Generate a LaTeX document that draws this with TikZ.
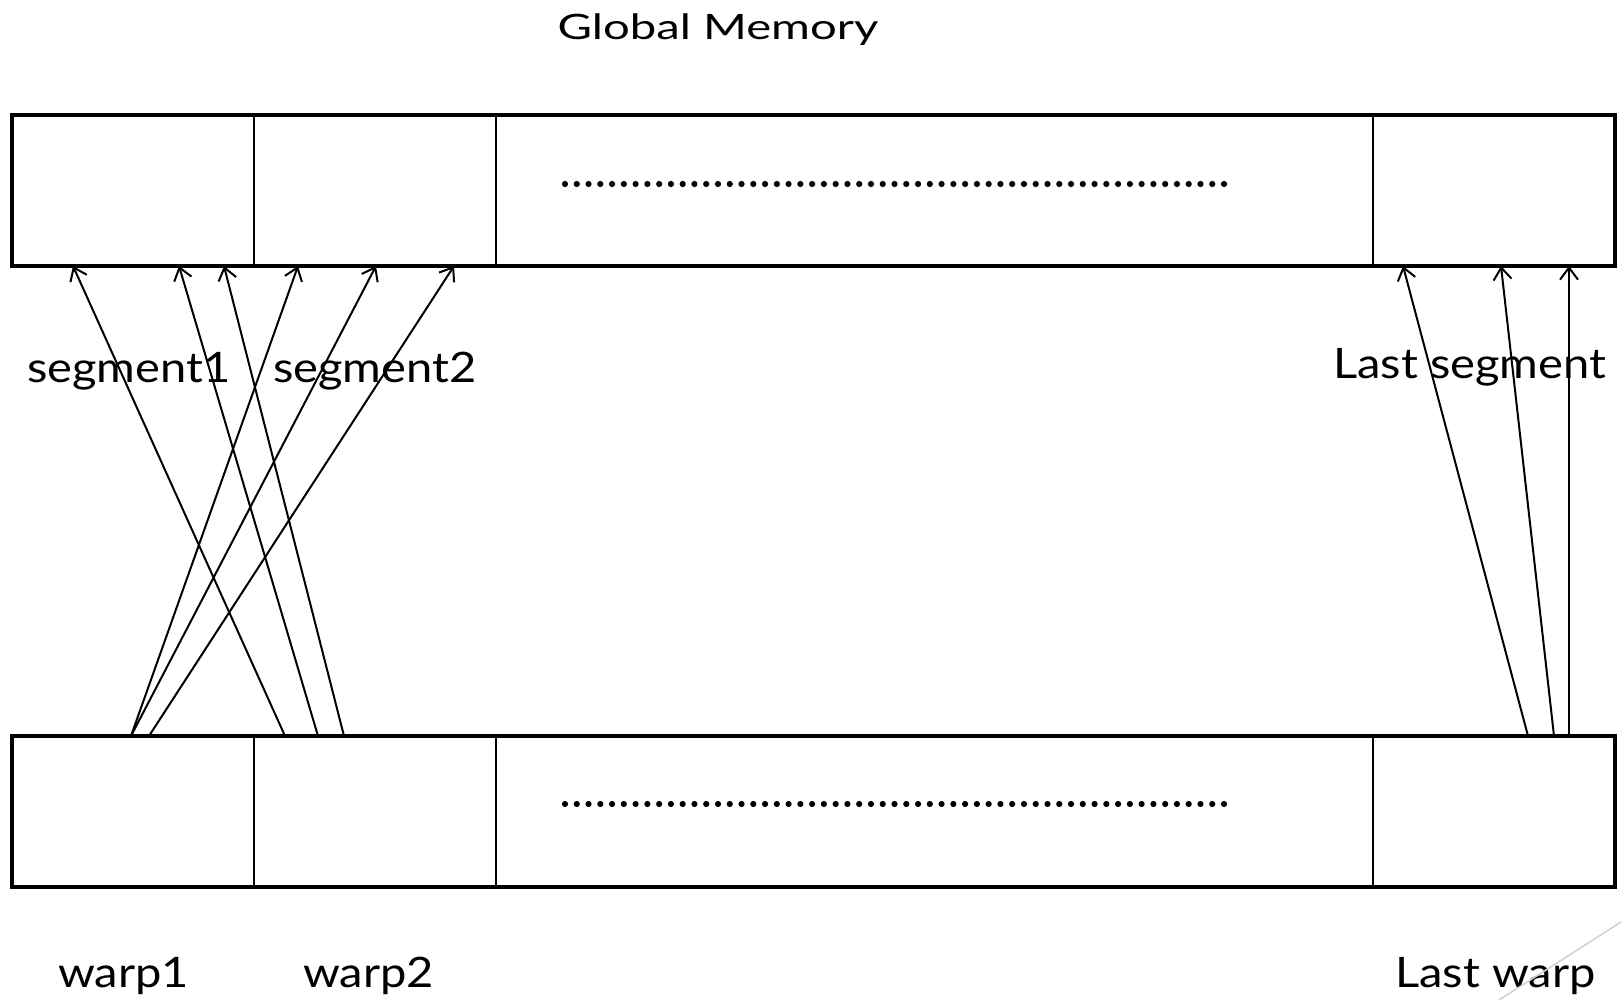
\documentclass[tikz,border=0pt]{standalone}
\usepackage{fontspec}
\setmainfont[FakeStretch=1.12]{Lato}
\newfontfamily\titlefont[FakeStretch=1.35]{Lato}
\usetikzlibrary{arrows.meta}
\begin{document}
\begin{tikzpicture}[x=1pt,y=-1pt,
  cell/.style={draw,line width=2pt,minimum height=151pt,inner sep=0pt,outer sep=0pt,anchor=north west},
  frame/.style={line width=4pt,line join=miter},
  link/.style={line width=2pt,-{Straight Barb[length=12pt,width=18pt,line width=2pt]}},
  lbl/.style={inner sep=0pt,anchor=base west,font=\fontsize{42}{48}\selectfont},
  dot/.style={fill=black}]
\fill[white] (0,0) rectangle (1621,1000);
\useasboundingbox (0,0) rectangle (1621,1000);
% top row (global memory)
\node[cell,minimum width=242pt] (t1) at (12,115) {};
\node[cell,minimum width=242pt] (t2) at (254,115) {};
\node[cell,minimum width=877pt] (t3) at (496,115) {};
\node[cell,minimum width=242pt] (t4) at (1373,115) {};
\draw[frame] (t1.north west) rectangle (t4.south east);
% bottom row (warps)
\node[cell,minimum width=242pt] (b1) at (12,736) {};
\node[cell,minimum width=242pt] (b2) at (254,736) {};
\node[cell,minimum width=877pt] (b3) at (496,736) {};
\node[cell,minimum width=242pt] (b4) at (1373,736) {};
\draw[frame] (b1.north west) rectangle (b4.south east);
% dotted rows
\foreach \i in {0,...,56} {
  \fill[dot] (565+\i*11.768,184) circle (3.1pt);
  \fill[dot] (565+\i*11.768,804) circle (3.1pt);
}
% end points
\coordinate (m1) at (73,266);
\coordinate (m2) at (179,266);
\coordinate (m3) at (224,266);
\coordinate (m4) at (298,266);
\coordinate (m5) at (376,266);
\coordinate (m6) at (454,266);
\coordinate (m7) at (1403,266);
\coordinate (m8) at (1501,266);
\coordinate (m9) at (1569,266);
\coordinate (w1) at (131,736);
\coordinate (w2) at (149,736);
\coordinate (w3) at (285,736);
\coordinate (w4) at (318,736);
\coordinate (w5) at (344,736);
\coordinate (w6) at (1528,736);
\coordinate (w7) at (1554,736);
\coordinate (w8) at (1569,736);
\draw[link] (w1) -- (m4);
\draw[link] (w1) -- (m5);
\draw[link] (w2) -- (m6);
\draw[link] (w3) -- (m1);
\draw[link] (w4) -- (m2);
\draw[link] (w5) -- (m3);
\draw[link] (w6) -- (m7);
\draw[link] (w7) -- (m8);
\draw[link] (w8) -- (m9);
% labels
\node[lbl,anchor=base,font=\titlefont\fontsize{35}{42}\selectfont] (title) at (718,40) {Global Memory};
\node[lbl] (s1) at (27,382) {segment1};
\node[lbl] (s2) at (273,382) {segment2};
\node[lbl] (s3) at (1333,378) {Last segment};
\node[lbl] (l1) at (58,987) {warp1};
\node[lbl] (l2) at (303,987) {warp2};
\node[lbl] (l3) at (1395,987) {Last warp};
% slide decoration
\draw[black!18,line width=1.5pt] (1621,922) -- (1499,1000);
\end{tikzpicture}
\end{document}
